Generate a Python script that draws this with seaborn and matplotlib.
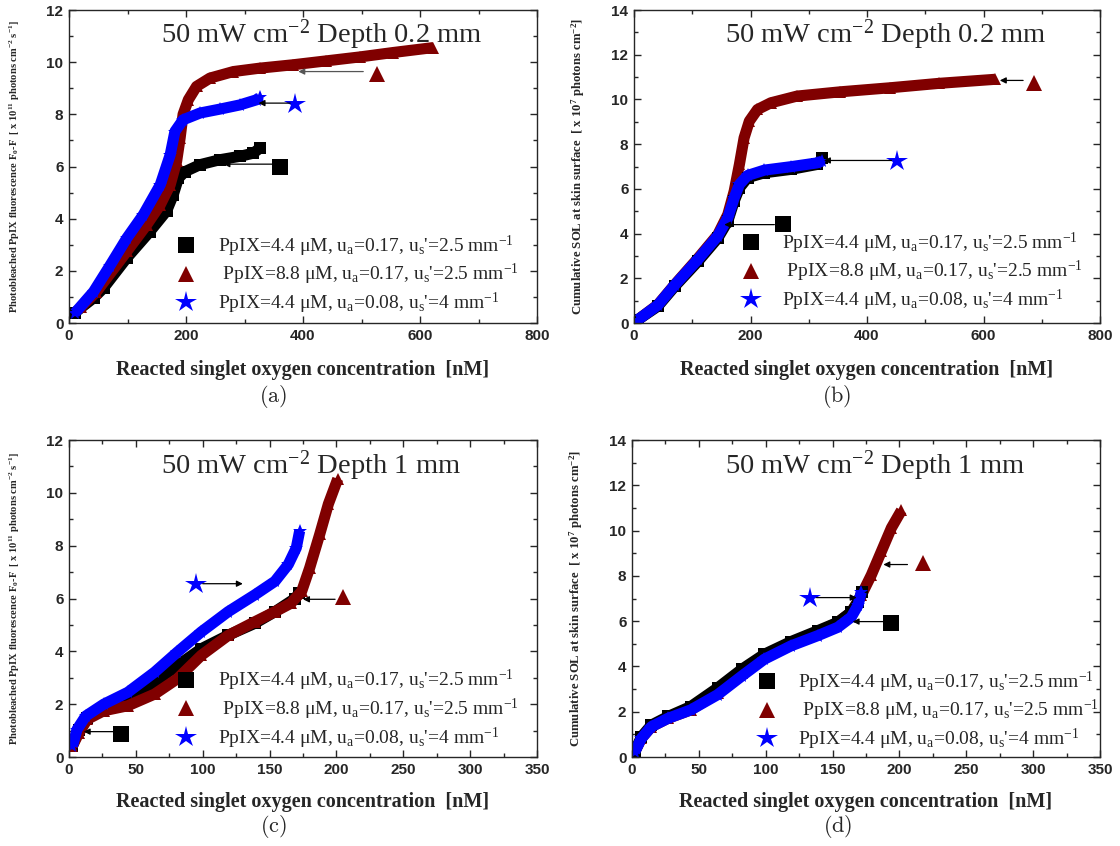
import matplotlib
matplotlib.use("Agg")
import matplotlib.pyplot as plt
from matplotlib.lines import Line2D
from matplotlib.ticker import MultipleLocator
import seaborn as sns
import pandas as pd

# ---------------- data ----------------
# Panel (a): photobleached fluorescence, depth 0.2 mm
a_black_x = [10, 42, 59, 99, 138, 167, 178, 187, 198, 224, 258, 292, 315, 326]
a_black_y = [0.4, 0.96, 1.34, 2.5, 3.5, 4.3, 4.9, 5.55, 5.8, 6.07, 6.26, 6.39, 6.51, 6.7]
a_red_x = [20, 47, 99, 133, 156, 173, 184, 190, 195, 204, 218, 241, 281, 326, 383, 440, 497, 554, 623]
a_red_y = [0.6, 1.2, 2.75, 3.77, 4.53, 5.3, 6.2, 7.1, 8.0, 8.56, 9.07, 9.39, 9.64, 9.77, 9.9, 10.05, 10.2, 10.37, 10.56]
a_blue_x = [10, 42, 70, 99, 127, 156, 173, 181, 195, 224, 258, 292, 321, 326]
a_blue_y = [0.38, 1.2, 2.2, 3.26, 4.15, 5.3, 6.45, 7.34, 7.79, 8.05, 8.2, 8.36, 8.56, 8.65]

# Panel (b): cumulative SOL, depth 0.2 mm
b_black_x = [7, 41, 70, 110, 144, 161, 172, 181, 195, 224, 269, 314, 323]
b_black_y = [0.15, 0.75, 1.64, 2.76, 3.8, 4.55, 5.45, 6.04, 6.5, 6.72, 6.87, 7.09, 7.36]
b_red_x = [7, 41, 70, 110, 144, 161, 172, 181, 189, 198, 212, 235, 280, 354, 439, 524, 620]
b_red_y = [0.15, 0.82, 1.72, 2.9, 3.96, 4.85, 5.9, 7.1, 8.28, 9.03, 9.55, 9.85, 10.15, 10.34, 10.52, 10.72, 10.9]
b_blue_x = [7, 41, 70, 110, 144, 161, 172, 181, 195, 224, 269, 314, 323]
b_blue_y = [0.15, 0.8, 1.7, 2.85, 3.9, 4.7, 5.6, 6.2, 6.6, 6.84, 6.99, 7.16, 7.24]

# Panel (c): photobleached fluorescence, depth 1 mm
c_black_x = [2.5, 7.5, 13.75, 26, 44, 64, 81, 99, 119, 139, 154, 169, 172]
c_black_y = [0.41, 1.04, 1.49, 1.87, 2.25, 2.83, 3.46, 4.1, 4.61, 5.06, 5.5, 6.0, 6.2]
c_red_x = [2.5, 7.5, 13.75, 26, 44, 64, 81, 99, 119, 139, 154, 166, 174, 180, 187.5, 194, 201]
c_red_y = [0.41, 0.92, 1.43, 1.75, 1.94, 2.38, 2.96, 3.85, 4.6, 5.12, 5.5, 5.82, 6.27, 7.16, 8.43, 9.58, 10.53]
c_blue_x = [2.5, 6, 12.5, 26, 44, 64, 81, 99, 119, 139, 154, 164, 170, 172.5]
c_blue_y = [0.41, 1.04, 1.55, 2.0, 2.45, 3.21, 3.97, 4.74, 5.5, 6.14, 6.65, 7.29, 7.92, 8.56]

# Panel (d): cumulative SOL, depth 1 mm
d_black_x = [2, 7, 14.5, 27, 44, 64, 82, 99, 119, 139, 154, 164, 169, 172]
d_black_y = [0.22, 0.89, 1.41, 1.79, 2.23, 3.05, 3.87, 4.54, 5.1, 5.58, 5.95, 6.4, 6.85, 7.29]
d_red_x = [2, 7, 14.5, 27, 44, 64, 82, 99, 119, 139, 154, 164, 171.5, 179, 186.5, 194, 201.5]
d_red_y = [0.22, 0.82, 1.34, 1.71, 2.08, 2.83, 3.72, 4.46, 5.06, 5.5, 5.95, 6.4, 7.14, 8.04, 9.08, 10.12, 10.89]
d_blue_x = [2, 7, 14.5, 27, 44, 64, 82, 99, 119, 139, 154, 164, 169, 171.5]
d_blue_y = [0.22, 0.82, 1.34, 1.71, 2.08, 2.75, 3.57, 4.32, 4.91, 5.36, 5.73, 6.18, 6.7, 7.29]

# Callout markers (marker position, arrow tail, arrow head) per panel: black, red, blue
a_callouts = [((361, 5.98), (349, 6.09), (264, 6.09)),
              ((526, 9.55), (503, 9.64), (392, 9.64)),
              ((386, 8.39), (378, 8.43), (324, 8.43))]
b_callouts = [((255, 4.45), (241, 4.4), (155, 4.4)),
              ((686, 10.75), (668, 10.85), (628, 10.85)),
              ((452, 7.24), (442, 7.27), (326, 7.27))]
c_callouts = [((39, 0.88), (34, 0.96), (11, 0.96)),
              ((205, 6.05), (199, 5.97), (175, 5.97)),
              ((95, 6.56), (100, 6.56), (130, 6.56))]
d_callouts = [((194, 5.9), (189, 5.98), (165, 5.98)),
              ((218, 8.55), (206, 8.5), (188, 8.5)),
              ((133, 7.04), (138, 7.04), (168, 7.04))]

series_labels = [r"PpIX=4.4 μM, u$_\mathrm{a}$=0.17, u$_\mathrm{s}$'=2.5 mm$^\mathrm{-1}$",
                 r" PpIX=8.8 μM, u$_\mathrm{a}$=0.17, u$_\mathrm{s}$'=2.5 mm$^\mathrm{-1}$",
                 r"PpIX=4.4 μM, u$_\mathrm{a}$=0.08, u$_\mathrm{s}$'=4 mm$^\mathrm{-1}$"]
titles = [r"50 mW cm$^\mathrm{-2}$ Depth 0.2 mm", r"50 mW cm$^\mathrm{-2}$ Depth 0.2 mm",
          r"50 mW cm$^\mathrm{-2}$ Depth 1 mm", r"50 mW cm$^\mathrm{-2}$ Depth 1 mm"]
xlabel = "Reacted singlet oxygen concentration  [nM]"
ylabel_f = r"Photobleached PpIX fluorescence F$_\mathbf{0}$-F  [ x 10$^\mathbf{11}$ photons cm$^\mathbf{-2}$ s$^\mathbf{-1}$]"
ylabel_s = r"Cumulative SOL at skin surface  [ x 10$^\mathbf{7}$ photons cm$^\mathbf{-2}$]"
captions = ["(a)", "(b)", "(c)", "(d)"]

# ---------------- style ----------------
sns.set_style("ticks")
plt.rcParams.update({
    "font.family": ["Liberation Serif", "DejaVu Serif"],
    "mathtext.fontset": "custom",
    "mathtext.rm": "Liberation Serif",
    "mathtext.it": "Liberation Serif:italic",
    "mathtext.bf": "Liberation Serif:bold",
    "xtick.direction": "in", "ytick.direction": "in",
    "xtick.top": True, "ytick.right": True,
    "axes.linewidth": 1.0,
})

colors = ["#000000", "#800000", "#0000ff"]
markers = ["s", "^", "*"]

fig = plt.figure(figsize=(11.2, 8.46), dpi=100)
W, H = 1120, 846
boxes = [(69, 537, 10, 323), (634, 1100, 10, 323), (69, 537, 440, 757), (632, 1100, 440, 757)]
axes = []
for (l, r, t, b) in boxes:
    axes.append(fig.add_axes([l / W, (H - b) / H, (r - l) / W, (b - t) / H]))

panels = [
    (a_black_x, a_black_y, a_red_x, a_red_y, a_blue_x, a_blue_y, a_callouts, 800, 12, 200, 100, ylabel_f, 7.6),
    (b_black_x, b_black_y, b_red_x, b_red_y, b_blue_x, b_blue_y, b_callouts, 800, 14, 200, 100, ylabel_s, 9.2),
    (c_black_x, c_black_y, c_red_x, c_red_y, c_blue_x, c_blue_y, c_callouts, 350, 12, 50, 25, ylabel_f, 7.6),
    (d_black_x, d_black_y, d_red_x, d_red_y, d_blue_x, d_blue_y, d_callouts, 350, 14, 50, 25, ylabel_s, 9.2),
]
title_pos = [(0.54, 0.922), (0.54, 0.922), (0.516, 0.918), (0.519, 0.918)]
legend_anchor = [(0.226, 0.286), (0.225, 0.296), (0.226, 0.28), (0.263, 0.276)]
xlabel_y = [-0.118, -0.118, -0.11, -0.11]
caption_pos = [(273, 397), (837, 397), (273, 826), (838, 826)]

for i, (ax, p) in enumerate(zip(axes, panels)):
    bx, by, rx, ry, ux, uy, callouts, xmax, ymax, xmaj, xmin_, ylab, ylab_size = p
    ser = [(bx, by), (rx, ry), (ux, uy)]
    order = [0, 1, 2] if i % 2 == 0 else [1, 0, 2]
    for k in order:
        xs, ys = ser[k]
        df = pd.DataFrame({"x": xs, "y": ys})
        ms = 10 if markers[k] == "*" else 8
        sns.lineplot(data=df, x="x", y="y", ax=ax, sort=False, estimator=None,
                     color=colors[k], linewidth=8, marker=markers[k], markersize=ms,
                     markeredgewidth=0, solid_capstyle="butt")
    for k, (mpos, tail, head) in enumerate(callouts):
        ax.annotate("", xy=head, xytext=tail,
                    arrowprops=dict(arrowstyle="-|>", color="black" if k != 1 or i != 0 else "#555555",
                                    lw=0.9, mutation_scale=9, shrinkA=0, shrinkB=0))
        ax.plot([mpos[0]], [mpos[1]], marker=markers[k], color=colors[k],
                markersize=16 if markers[k] == "*" else 12, markeredgewidth=0, linestyle="none")
    ax.set_xlim(0, xmax)
    ax.set_ylim(0, ymax)
    ax.xaxis.set_major_locator(MultipleLocator(xmaj))
    ax.xaxis.set_minor_locator(MultipleLocator(xmin_))
    ax.yaxis.set_major_locator(MultipleLocator(2))
    ax.yaxis.set_minor_locator(MultipleLocator(1))
    ax.tick_params(which="major", length=5, width=1, labelsize=11, pad=4)
    ax.tick_params(which="minor", length=3, width=1)
    ax.tick_params(which="both", top=True, right=True, direction="in")
    for lbl in ax.get_xticklabels() + ax.get_yticklabels():
        lbl.set_fontfamily("Liberation Sans")
        lbl.set_fontweight("bold")
    ax.set_xlabel(xlabel, fontsize=14.5, fontweight="bold")
    ax.xaxis.set_label_coords(0.5, xlabel_y[i])
    ax.set_ylabel(ylab, fontsize=ylab_size, fontweight="bold")
    ax.yaxis.set_label_coords(-0.10, 0.5)
    ax.text(title_pos[i][0], title_pos[i][1], titles[i], transform=ax.transAxes,
            ha="center", va="center", fontsize=20.5)
    handles = [Line2D([], [], marker=markers[k], color=colors[k], linestyle="none",
                      markersize=16 if markers[k] == "*" else 12, markeredgewidth=0)
               for k in range(3)]
    ax.legend(handles, series_labels, loc="upper left", bbox_to_anchor=legend_anchor[i],
              frameon=False, fontsize=14, handlelength=1.2, handletextpad=1.0,
              labelspacing=0.18, borderpad=0, borderaxespad=0)
    fig.text(caption_pos[i][0] / W, (H - caption_pos[i][1]) / H, r"$\mathrm{" + captions[i] + "}$",
             ha="center", va="center", fontsize=16, math_fontfamily="cm")

fig.savefig("out.png", dpi=100)
